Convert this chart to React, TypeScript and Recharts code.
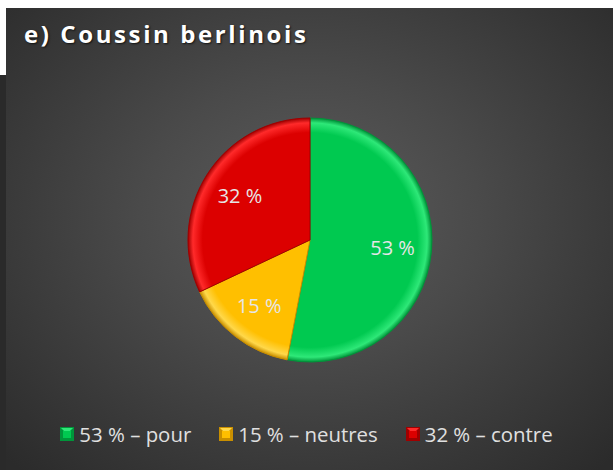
import React from "react";
import { PieChart, Pie, Cell, Legend } from "recharts";

const categories = ["pour", "neutres", "contre"];
const values = [53, 15, 32];
const colors = ["#00c950", "#ffbf00", "#dc0000"];
const darkColors = ["#00953a", "#c98f00", "#a00000"];
const lightColors = ["#2ee878", "#ffd84a", "#ff2a2a"];

const data = categories.map((name, i) => ({ name, value: values[i] }));

const RAD = Math.PI / 180;
const CX = 304;
const CY = 232;
const R = 122;

const renderLabel = (props: any) => {
  const { cx, cy, midAngle, outerRadius, value } = props;
  const r = outerRadius * 0.68;
  const x = cx + r * Math.cos(-midAngle * RAD);
  const y = cy + r * Math.sin(-midAngle * RAD);
  return (
    <text
      x={x}
      y={y}
      fill="#e6e6e6"
      fontSize={20}
      fontFamily="'Open Sans', sans-serif"
      textAnchor="middle"
      dominantBaseline="central"
    >
      {value} %
    </text>
  );
};

const renderLegend = () => (
  <div
    style={{
      display: "flex",
      justifyContent: "center",
      gap: 28,
      fontFamily: "'Open Sans', sans-serif",
      fontSize: 20.4,
      color: "#e0e0e0",
      width: 601,
    }}
  >
    {data.map((d, i) => (
      <div key={d.name} style={{ display: "flex", alignItems: "center" }}>
        <svg width={14} height={14} style={{ marginRight: 5 }}>
          <rect x={0} y={0} width={14} height={14} fill={darkColors[i]} />
          <polygon points="1,1 13,1 7,7" fill={lightColors[i]} />
          <rect x={3} y={4} width={8} height={7} fill={colors[i]} />
        </svg>
        <span>
          {d.value} % – {d.name}
        </span>
      </div>
    ))}
  </div>
);

export default function App() {
  return (
    <div style={{ position: "absolute", left: 0, top: 0, width: 613, height: 470, background: "#fff" }}>
      <div style={{ position: "absolute", left: 0, top: 75, width: 6, height: 395, background: "#2a2a2a" }} />
      <div
        style={{
          position: "absolute",
          left: 6,
          top: 8,
          width: 607,
          height: 462,
          background:
            "radial-gradient(ellipse 70% 75% at 50% 45%, #5c5c5c 0%, #4a4a4a 40%, #2b2b2b 100%)",
        }}
      >
        <div
          style={{
            position: "absolute",
            left: 18,
            top: 9,
            fontFamily: "'Open Sans', sans-serif",
            fontWeight: 700,
            fontSize: 24,
            letterSpacing: 2.6,
            color: "#ffffff",
            textShadow: "1px 1px 2px rgba(0,0,0,0.7)",
          }}
        >
          e) Coussin berlinois
        </div>
        <PieChart width={607} height={462} margin={{ top: 0, right: 0, bottom: 0, left: 0 }}>
          <defs>
            {colors.map((c, i) => (
              <radialGradient
                key={i}
                id={`g${i}`}
                gradientUnits="userSpaceOnUse"
                cx={CX}
                cy={CY}
                r={R}
              >
                <stop offset="0%" stopColor={c} />
                <stop offset="88%" stopColor={c} />
                <stop offset="96%" stopColor={lightColors[i]} />
                <stop offset="100%" stopColor={darkColors[i]} />
              </radialGradient>
            ))}
          </defs>
          <Pie
            data={data}
            dataKey="value"
            nameKey="name"
            cx={CX}
            cy={CY}
            outerRadius={R}
            startAngle={90}
            endAngle={-270}
            label={renderLabel}
            labelLine={false}
            isAnimationActive={false}
          >
            {data.map((d, i) => (
              <Cell key={d.name} fill={`url(#g${i})`} stroke={darkColors[i]} strokeWidth={1} />
            ))}
          </Pie>
          <Legend
            content={renderLegend}
            wrapperStyle={{ position: "absolute", left: 0, top: 412, width: 601 }}
          />
        </PieChart>
      </div>
    </div>
  );
}
